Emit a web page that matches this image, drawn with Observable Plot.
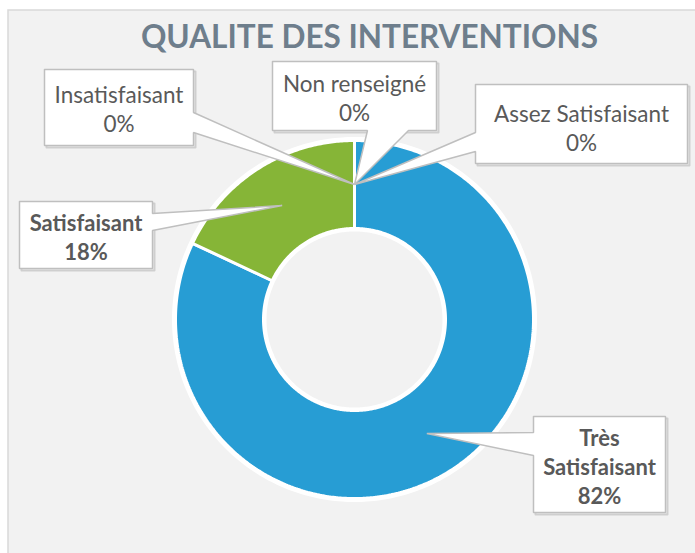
<!DOCTYPE html>
<html>
<head>
<meta charset="utf-8">
<script src="https://cdn.jsdelivr.net/npm/d3@7"></script>
<script src="https://cdn.jsdelivr.net/npm/@observablehq/plot@0.6"></script>
<style>
  html, body { margin: 0; padding: 0; background: #ffffff; }
  #chart svg { display: block; }
</style>
</head>
<body>
<div id="chart"></div>
<script>
// ---- data ----
const title = "QUALITE DES INTERVENTIONS";
const categories = ["Très Satisfaisant", "Satisfaisant", "Assez Satisfaisant", "Insatisfaisant", "Non renseigné"];
const values = [82, 18, 0, 0, 0];
const colors = ["#279dd4", "#86b537", "#a5a5a5", "#ffc000", "#5b9bd5"];

// ---- layout (pixels) ----
const W = 695, H = 553;
const center = {x: 354, y: 319};
const rOuter = 179, rInner = 91;
// callout boxes: [x0, y0, x1, y1], side of the wedge, wedge base [b0, b1]
const callouts = {
  "Très Satisfaisant": {box: [533, 416, 665, 512], side: "left", base: [432, 455], wrap: true},
  "Satisfaisant": {box: [19, 201, 152, 268], side: "right", base: [213, 230]},
  "Assez Satisfaisant": {box: [475, 84, 687, 163], side: "left", base: [132, 151]},
  "Insatisfaisant": {box: [44, 69, 193, 145], side: "right", base: [112, 132]},
  "Non renseigné": {box: [272, 61, 436, 130], side: "bottom", base: [367, 408]}
};

// ---- slices from data ----
const total = d3.sum(values);
let acc = 0;
const slices = categories.map((c, i) => {
  const a0 = acc / total * 2 * Math.PI;
  acc += values[i];
  const a1 = acc / total * 2 * Math.PI;
  return {category: c, value: values[i], color: colors[i], a0, a1};
});
const pt = (a, r) => ({x: center.x + r * Math.sin(a), y: center.y - r * Math.cos(a)});

const slicePts = [];
for (const s of slices) {
  if (s.value <= 0) continue;
  const n = Math.max(2, Math.ceil((s.a1 - s.a0) / 0.01));
  const ring = [];
  for (let k = 0; k <= n; k++) ring.push(pt(s.a0 + (s.a1 - s.a0) * k / n, rOuter));
  for (let k = n; k >= 0; k--) ring.push(pt(s.a0 + (s.a1 - s.a0) * k / n, rInner));
  ring.push(ring[0]);
  for (const p of ring) slicePts.push({...p, category: s.category, color: s.color});
}

// outer / inner white rims
const rimPts = d3.range(0, 361).map(k => ({...pt(k * Math.PI / 180, rOuter + 1.5)}));
const innerRimPts = d3.range(0, 361).map(k => ({...pt(k * Math.PI / 180, rInner - 1.5)}));

// callouts
const calloutPts = [], shadowPts = [], labels = [];
for (const s of slices) {
  const c = callouts[s.category];
  const am = (s.a0 + s.a1) / 2;
  const t = pt(am, (rOuter + rInner) / 2);
  const [x0, y0, x1, y1] = c.box;
  const [b0, b1] = c.base;
  let poly;
  if (c.side === "right") poly = [[x0,y0],[x1,y0],[x1,b0],[t.x,t.y],[x1,b1],[x1,y1],[x0,y1],[x0,y0]];
  else if (c.side === "left") poly = [[x0,y0],[x1,y0],[x1,y1],[x0,y1],[x0,b1],[t.x,t.y],[x0,b0],[x0,y0]];
  else poly = [[x0,y0],[x1,y0],[x1,y1],[b1,y1],[t.x,t.y],[b0,y1],[x0,y1],[x0,y0]];
  poly.forEach(([x, y]) => calloutPts.push({x, y, category: s.category}));
  [[x0+2,y0+2],[x1+2,y0+2],[x1+2,y1+2],[x0+2,y1+2],[x0+2,y0+2]].forEach(([x,y]) => shadowPts.push({x, y, category: s.category}));
  const name = c.wrap ? s.category.replace(" ", "\n") : s.category;
  labels.push({
    x: (x0 + x1) / 2, y: (y0 + y1) / 2 + (c.side === "left" && !c.wrap ? 3 : 1),
    text: name + "\n" + Math.round(s.value) + "%",
    bold: s.value > 0
  });
}

const chart = Plot.plot({
  width: W, height: H,
  margin: 0,
  x: {domain: [0, W], range: [0, W], axis: null},
  y: {domain: [0, H], range: [0, H], axis: null},
  style: {background: "transparent", fontFamily: "Lato, 'Open Sans', sans-serif"},
  marks: [
    // panel background
    Plot.rect([{x1: 8, y1: 10, x2: W + 5, y2: H + 5}], {x1: "x1", y1: "y1", x2: "x2", y2: "y2", fill: "#f2f2f2", stroke: "#d9d9d9", strokeWidth: 1.5}),
    Plot.text([title], {x: 369, y: 37, text: d => d, fontSize: 31.5, fontWeight: "bold", fill: "#6e7e8c", textAnchor: "middle"}),
    // donut
    Plot.line(rimPts, {x: "x", y: "y", stroke: "white", strokeWidth: 4, fill: "none"}),
    Plot.line(slicePts, {x: "x", y: "y", z: "category", fill: "color", stroke: "white", strokeWidth: 3, strokeLinejoin: "miter", curve: "linear"}),
    Plot.line(innerRimPts, {x: "x", y: "y", stroke: "white", strokeWidth: 3, fill: "none"}),
    // callouts
    Plot.line(shadowPts, {x: "x", y: "y", z: "category", stroke: "#cfcfcf", strokeWidth: 2, fill: "none"}),
    Plot.line(calloutPts, {x: "x", y: "y", z: "category", fill: "white", stroke: "#bfbfbf", strokeWidth: 1.5, strokeLinejoin: "miter"}),
    Plot.text(labels.filter(d => !d.bold), {x: "x", y: "y", text: "text", fontSize: 22.5, lineHeight: 1.3, fill: "#595959", lineAnchor: "middle"}),
    Plot.text(labels.filter(d => d.bold), {x: "x", y: "y", text: "text", fontSize: 22, fontWeight: "bold", lineHeight: 1.32, fill: "#595959", lineAnchor: "middle"})
  ]
});
document.getElementById("chart").appendChild(chart);
</script>
</body>
</html>
